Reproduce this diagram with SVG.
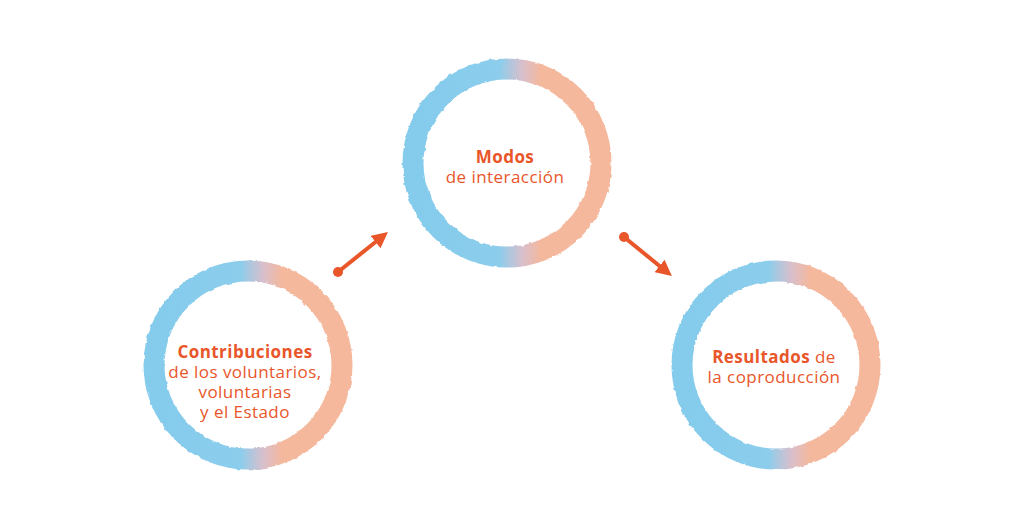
<svg xmlns="http://www.w3.org/2000/svg" width="1024" height="525" viewBox="0 0 1024 525">
<style>
.ring{fill:none;stroke:url(#g);stroke-width:21;filter:url(#rough)}
.t{font-family:"Open Sans","Liberation Sans",sans-serif;font-size:17px;letter-spacing:0.45px;fill:#e8562a;text-anchor:middle}
.b{font-weight:bold}
.con{stroke:#e8562a;stroke-width:4;fill:none;marker-end:url(#ah)}
.dot{fill:#e8562a}
</style>
<defs>
<linearGradient id="g" x1="0" y1="0" x2="1" y2="0">
<stop offset="0" stop-color="#84cbec"/>
<stop offset="0.46" stop-color="#8ccdec"/>
<stop offset="0.58" stop-color="#d8bfcc"/>
<stop offset="0.68" stop-color="#f4b89d"/>
<stop offset="1" stop-color="#f5b89c"/>
</linearGradient>
<filter id="rough" x="-10%" y="-10%" width="120%" height="120%">
<feTurbulence type="fractalNoise" baseFrequency="0.15" numOctaves="2" seed="3"/>
<feDisplacementMap in="SourceGraphic" scale="3" xChannelSelector="R" yChannelSelector="G"/>
</filter>
<marker id="ah" viewBox="0 0 10 10" refX="2" refY="5" markerWidth="4" markerHeight="4" orient="auto" markerUnits="strokeWidth">
<path d="M0,0 L10,5 L0,10 z" fill="#e8562a"/>
</marker>
</defs>
<g id="node-contribuciones">
<circle class="ring" cx="248" cy="365" r="94"/>
<text class="t b" x="245" y="358">Contribuciones</text>
<text class="t" x="245" y="378">de los voluntarios,</text>
<text class="t" x="245" y="398">voluntarias</text>
<text class="t" x="245" y="418">y el Estado</text>
</g>
<g id="node-modos">
<circle class="ring" cx="507" cy="163" r="94"/>
<text class="t b" x="505" y="163">Modos</text>
<text class="t" x="505" y="183">de interacción</text>
</g>
<g id="node-resultados">
<circle class="ring" cx="776" cy="365" r="94"/>
<text class="t" x="774" y="363"><tspan class="b">Resultados</tspan> de</text>
<text class="t" x="774" y="383">la coproducción</text>
</g>
<g id="connectors">
<circle class="dot" cx="338" cy="272" r="5"/>
<path class="con" d="M338,272 L378,240"/>
<circle class="dot" cx="624" cy="237" r="5"/>
<path class="con" d="M624,237 L662,268"/>
</g>
</svg>
